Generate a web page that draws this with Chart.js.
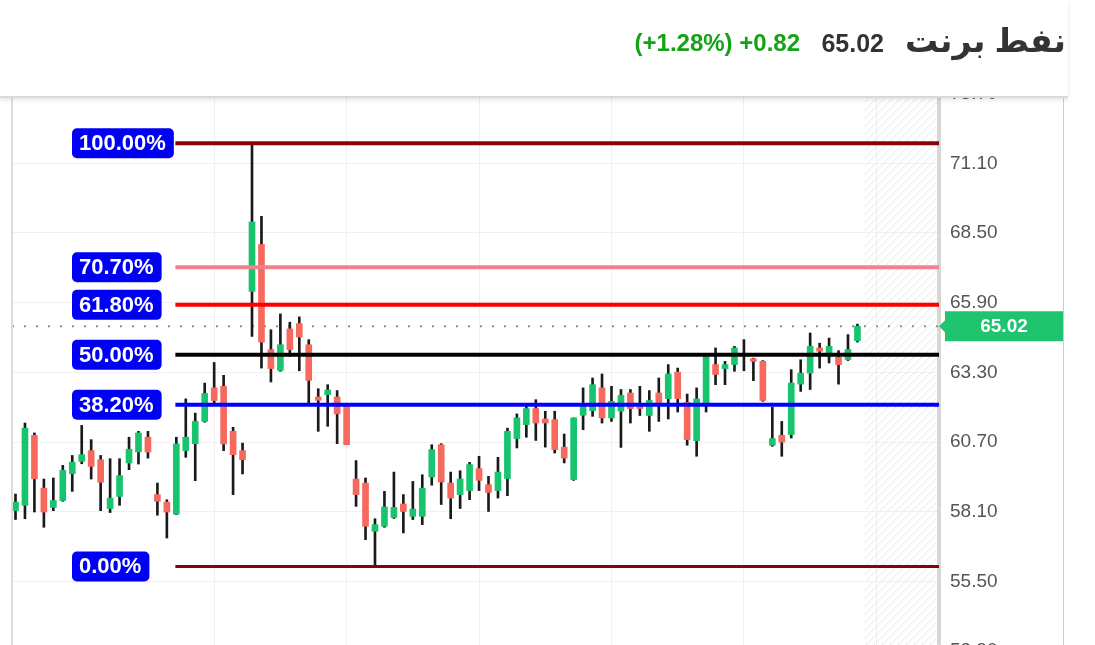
<!DOCTYPE html>
<html lang="ar">
<head>
<meta charset="UTF-8">
<title>نفط برنت</title>
<script src="https://cdn.jsdelivr.net/npm/chart.js"></script>
<style>
  body { margin: 0; width: 1095px; height: 645px; overflow: hidden; background: #fff; position: relative;
         font-family: Arial, "Liberation Sans", "DejaVu Sans", sans-serif; }
  #header { position: absolute; left: 0; top: 0; width: 1068px; height: 96px; background: #fff;
            border-bottom: 2px solid #d9d9d9; box-shadow: 0 2px 4px rgba(0,0,0,0.10); z-index: 2; }
  #title { position: absolute; right: 2px; top: 21px; font-size: 33px; line-height: 40px; font-weight: bold; color: #333; direction: rtl; }
  #price { position: absolute; right: 184px; top: 29px; font-size: 25px; line-height: 28px; font-weight: bold; color: #333; }
  #change { position: absolute; right: 268px; top: 29px; font-size: 24px; line-height: 28px; font-weight: bold; color: #14a314; direction: ltr; }
  #chartBox { position: absolute; left: 0; top: 40px; width: 1064px; height: 680px; }
</style>
</head>
<body>
  <div id="header">
    <div id="change">(+1.28%) +0.82</div>
    <div id="price">65.02</div>
    <div id="title">نفط برنت</div>
  </div>
  <div id="chartBox"><canvas id="brentChart"></canvas></div>

<script>
  // daily candles
  const opens  = [58.14, 58.34, 60.95, 58.98, 58.26, 58.52, 59.52, 59.98, 60.38, 60.04,
                  58.22, 58.67, 59.92, 60.33, 60.88, 58.74, 58.46, 58.01, 60.38, 60.64,
                  61.47, 62.72, 62.78, 61.10, 60.38, 66.32, 68.07, 64.15, 63.37, 64.92,
                  65.12, 64.33, 62.38, 62.47, 62.38, 62.06, 59.32, 59.17, 57.37, 57.56,
                  57.89, 58.39, 57.93, 57.93, 59.40, 60.60, 59.17, 58.74, 58.89, 59.71,
                  59.11, 58.89, 59.34, 60.83, 61.35, 61.95, 61.56, 61.54, 60.51, 59.30,
                  61.70, 61.87, 62.72, 61.60, 61.85, 62.53, 62.03, 61.69, 62.53, 62.32,
                  63.31, 62.18, 60.75, 62.16, 63.59, 63.44, 63.59, 63.90, 63.81, 63.71,
                  60.58, 60.95, 60.98, 62.86, 63.27, 64.21, 63.90, 63.86, 63.78, 64.48];
  const highs  = [58.76, 61.41, 61.04, 59.32, 59.36, 59.83, 60.20, 61.32, 60.79, 60.20,
                  60.08, 60.08, 60.88, 61.10, 61.10, 59.17, 58.55, 60.88, 62.31, 61.78,
                  62.90, 63.67, 63.19, 61.25, 60.66, 71.85, 69.12, 64.89, 65.48, 65.17,
                  65.37, 64.52, 62.69, 62.84, 62.62, 62.10, 60.01, 59.36, 57.84, 58.86,
                  59.58, 58.74, 59.23, 59.48, 60.60, 60.64, 59.58, 59.63, 59.94, 60.17,
                  59.42, 60.13, 61.22, 61.75, 62.07, 62.28, 61.85, 61.85, 61.00, 61.60,
                  62.72, 63.09, 63.24, 62.78, 62.66, 62.66, 62.78, 62.62, 63.09, 63.59,
                  63.46, 62.49, 62.72, 63.96, 64.21, 63.71, 64.27, 64.52, 63.83, 63.74,
                  62.00, 61.47, 63.40, 63.77, 64.77, 64.39, 64.58, 64.11, 64.71, 65.10];
  const lows   = [57.81, 57.84, 58.09, 57.52, 58.14, 58.49, 58.86, 59.89, 59.32, 58.14,
                  58.07, 58.34, 59.67, 59.88, 60.10, 57.97, 57.12, 57.99, 60.13, 59.26,
                  61.44, 62.16, 60.38, 58.74, 59.51, 64.64, 63.46, 62.94, 63.34, 63.90,
                  63.36, 62.12, 61.10, 61.29, 60.64, 60.60, 58.30, 57.06, 56.06, 57.52,
                  57.85, 57.31, 57.81, 57.62, 59.09, 58.37, 57.84, 58.22, 58.55, 58.89,
                  58.11, 58.61, 58.70, 60.48, 60.88, 60.76, 60.51, 60.29, 59.92, 59.27,
                  61.16, 61.66, 61.41, 61.47, 60.50, 61.41, 61.69, 61.10, 61.47, 61.56,
                  61.82, 60.58, 60.17, 61.82, 62.84, 62.84, 63.34, 63.36, 62.99, 62.22,
                  60.54, 60.17, 60.85, 62.59, 62.66, 63.46, 63.65, 62.86, 63.74, 64.43];
  const closes = [58.46, 61.22, 59.33, 58.09, 58.52, 59.65, 59.95, 60.23, 59.79, 59.20,
                  58.61, 59.45, 60.43, 61.04, 60.33, 58.49, 58.09, 60.63, 60.88, 61.47,
                  62.51, 62.25, 60.63, 60.23, 60.04, 68.91, 64.43, 63.44, 64.33, 64.15,
                  64.62, 63.00, 62.26, 62.64, 61.75, 60.60, 58.74, 57.56, 57.62, 58.28,
                  58.26, 58.11, 58.20, 58.98, 60.42, 59.21, 58.61, 59.32, 59.86, 59.27,
                  58.82, 59.58, 61.10, 61.60, 61.95, 61.41, 61.41, 60.42, 60.10, 61.60,
                  62.03, 62.84, 61.60, 62.22, 62.44, 61.95, 61.95, 62.25, 62.10, 63.24,
                  62.32, 60.79, 62.31, 63.90, 63.22, 63.59, 64.21, 64.00, 63.71, 62.25,
                  60.83, 60.70, 62.90, 63.27, 64.27, 64.09, 64.27, 63.59, 64.15, 65.02];

  // right axis tick labels
  const yTicks = [52.90, 55.50, 58.10, 60.70, 63.30, 65.90, 68.50, 71.10, 73.70];
  // candle indices where the vertical grid lines fall
  const gridIdx = [21, 35, 49, 63, 77, 91];

  // fibonacci retracement drawn from the swing low to the swing high
  const fibLow = 56.06;
  const fibHigh = 71.85;
  const fibStartIdx = 16.9;
  const fibPercents = [100, 70.7, 61.8, 50, 38.2, 0];
  const fibLabels = ['100.00%', '70.70%', '61.80%', '50.00%', '38.20%', '0.00%'];
  const fibColors = ['#8b0000', '#f4808f', '#ff0000', '#000000', '#0000ff', '#8b0000'];
  const fibLevels = fibPercents.map(p => fibLow + (fibHigh - fibLow) * p / 100);

  const upColor = '#18c46e';
  const downColor = '#f7695d';
  const lastClose = closes[closes.length - 1];

  // visible window of the scales
  const xMin = -0.37, xMax = 97.62;
  const yMin = 51.45, yMax = 74.58;

  const bodies = opens.map((o, i) => ({ x: i, y: [o, closes[i]] }));
  const wicks = lows.map((l, i) => ({ x: i, y: [l, highs[i]] }));
  const candleColors = opens.map((o, i) => closes[i] >= o ? upColor : downColor);

  const fibDatasets = fibLevels.map((lv, k) => ({
    type: 'line',
    data: [{ x: fibStartIdx, y: lv }, { x: xMax, y: lv }],
    borderColor: fibColors[k],
    borderWidth: k === 5 ? 3 : 4,
    pointRadius: 0,
    order: 0
  }));

  // future zone hatching, borders, fib labels and price tag
  const extras = {
    id: 'extras',
    beforeDatasetsDraw(chart) {
      const { ctx, chartArea: a, scales: { x } } = chart;
      const hx = x.getPixelForValue(closes.length - 0.2);
      ctx.save();
      ctx.beginPath();
      ctx.rect(hx, a.top, a.right - hx, a.bottom - a.top);
      ctx.clip();
      ctx.strokeStyle = '#e8e8e8';
      ctx.lineWidth = 1;
      for (let s = hx - (a.bottom - a.top); s < a.right; s += 8) {
        ctx.beginPath();
        ctx.moveTo(s, a.bottom);
        ctx.lineTo(s + (a.bottom - a.top), a.top);
        ctx.stroke();
      }
      ctx.restore();
    },
    afterDatasetsDraw(chart) {
      const { ctx, chartArea: a, scales: { y } } = chart;
      ctx.save();
      ctx.font = 'bold 22px Arial, "Liberation Sans", sans-serif';
      ctx.textBaseline = 'middle';
      fibLevels.forEach((lv, k) => {
        const py = y.getPixelForValue(lv);
        const w = ctx.measureText(fibLabels[k]).width + 15;
        const bx = a.left + 60;
        ctx.fillStyle = '#0000f5';
        ctx.beginPath();
        ctx.roundRect(bx, py - 15, w, 30, 5);
        ctx.fill();
        ctx.fillStyle = '#fff';
        ctx.fillText(fibLabels[k], bx + 7, py + 1);
      });
      ctx.restore();
    },
    afterDraw(chart) {
      const { ctx, chartArea: a, scales: { y } } = chart;
      ctx.save();
      ctx.strokeStyle = '#dcdcdc';
      ctx.lineWidth = 2;
      ctx.beginPath();
      ctx.moveTo(a.left, a.top);
      ctx.lineTo(a.left, a.bottom);
      ctx.stroke();
      ctx.strokeStyle = '#cccccc';
      ctx.lineWidth = 1;
      ctx.beginPath();
      ctx.moveTo(1063.5, a.top);
      ctx.lineTo(1063.5, a.bottom);
      ctx.stroke();

      const py = y.getPixelForValue(lastClose);
      const left = a.right + 2;
      ctx.fillStyle = '#1fc46f';
      ctx.beginPath();
      ctx.moveTo(a.right, py);
      ctx.lineTo(left + 4, py - 6);
      ctx.lineTo(left + 4, py - 15);
      ctx.lineTo(1063, py - 15);
      ctx.lineTo(1063, py + 15);
      ctx.lineTo(left + 4, py + 15);
      ctx.lineTo(left + 4, py + 6);
      ctx.closePath();
      ctx.fill();
      ctx.fillStyle = '#fff';
      ctx.font = 'bold 19px Arial, "Liberation Sans", sans-serif';
      ctx.textAlign = 'center';
      ctx.textBaseline = 'middle';
      ctx.fillText(lastClose.toFixed(2), (left + 1063) / 2 + 2, py + 1);
      ctx.restore();
    }
  };

  Chart.defaults.font.family = 'Arial, "Liberation Sans", sans-serif';

  new Chart(document.getElementById('brentChart'), {
    type: 'bar',
    data: {
      datasets: [
        ...fibDatasets,
        {
          data: bodies,
          backgroundColor: candleColors,
          barThickness: 6,
          minBarLength: 2,
          grouped: false,
          order: 1
        },
        {
          data: wicks,
          backgroundColor: '#1a1a1a',
          barThickness: 2,
          grouped: false,
          order: 2
        },
        {
          type: 'line',
          data: [{ x: xMin, y: lastClose }, { x: xMax, y: lastClose }],
          borderColor: '#8c8c8c',
          borderWidth: 2,
          borderDash: [2, 10],
          pointRadius: 0,
          order: 3
        }
      ]
    },
    options: {
      responsive: true,
      maintainAspectRatio: false,
      animation: false,
      layout: { padding: { top: 30, bottom: 30, left: 12, right: 0 } },
      plugins: { legend: { display: false }, tooltip: { enabled: false } },
      scales: {
        x: {
          type: 'linear',
          min: xMin,
          max: xMax,
          offset: false,
          grid: { color: '#f0f0f0', drawTicks: false, offset: false },
          border: { display: false },
          ticks: { display: false },
          afterBuildTicks: s => { s.ticks = gridIdx.map(v => ({ value: v })); },
          afterFit: s => { s.height = 0; }
        },
        y: {
          position: 'right',
          min: yMin,
          max: yMax,
          grid: { color: '#f0f0f0', drawTicks: false },
          border: { color: '#d6d6d6', width: 4 },
          ticks: {
            color: '#555',
            font: { size: 19 },
            padding: 11,
            callback: v => Number(v).toFixed(2)
          },
          afterBuildTicks: s => { s.ticks = yTicks.map(v => ({ value: v })); },
          afterFit: s => { s.width = 125; }
        }
      }
    },
    plugins: [extras]
  });
</script>
</body>
</html>
